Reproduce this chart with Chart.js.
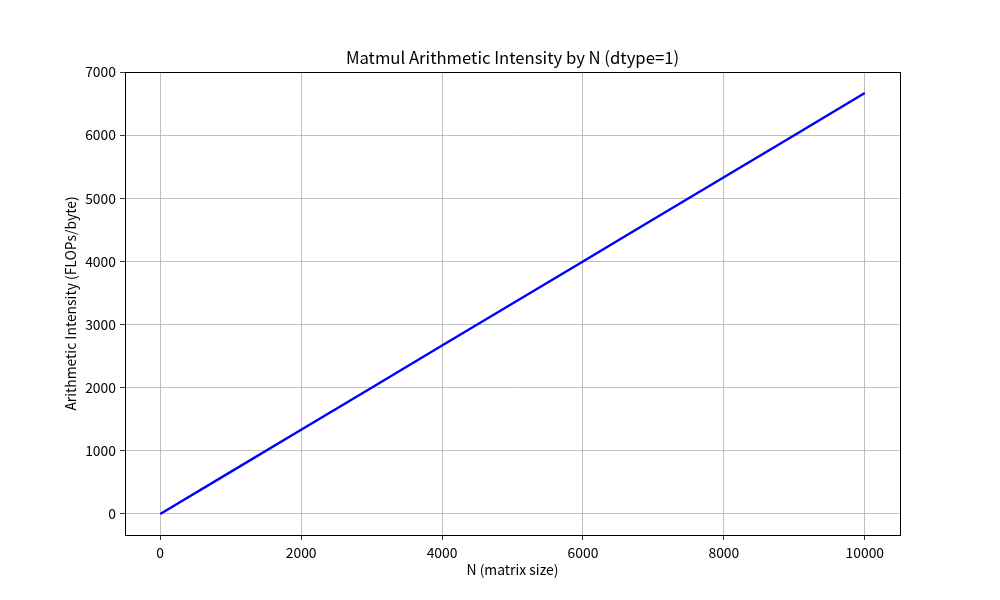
<!DOCTYPE html>
<html><head><meta charset="utf-8">
<script src="https://cdn.jsdelivr.net/npm/chart.js@4"></script>
<style>html,body{margin:0;padding:0;background:#fff}</style>
</head><body>
<canvas id="c" width="1000" height="600"></canvas>
<script>
const nValues = [0, 1000, 2000, 3000, 4000, 5000, 6000, 7000, 8000, 9000, 10000];
const intensity = [0, 667, 1333, 2000, 2667, 3333, 4000, 4667, 5333, 6000, 6667];
const xTicks = [0, 2000, 4000, 6000, 8000, 10000];
const yTicks = [0, 1000, 2000, 3000, 4000, 5000, 6000, 7000];
const FONT = "'Noto Sans CJK JP', 'Noto Sans', sans-serif";

const frame = {
  id: 'frame',
  afterDatasetsDraw(chart) {
    const a = chart.chartArea, ctx = chart.ctx;
    ctx.save();
    ctx.strokeStyle = '#000';
    ctx.lineWidth = 1;
    ctx.strokeRect(Math.round(a.left) + 0.5, Math.round(a.top) + 0.5, Math.round(a.right - a.left), Math.round(a.bottom - a.top));
    ctx.restore();
  }
};

new Chart(document.getElementById('c'), {
  type: 'line',
  data: {
    datasets: [{
      data: nValues.map((n, i) => ({x: n, y: intensity[i]})),
      borderColor: '#0000ff',
      borderWidth: 2.4,
      pointRadius: 0,
      fill: false,
      tension: 0
    }]
  },
  options: {
    responsive: false,
    animation: false,
    devicePixelRatio: 1,
    layout: {padding: {left: 25, right: 0, top: 0, bottom: 0}},
    plugins: {
      legend: {display: false},
      tooltip: {enabled: false},
      title: {
        display: true,
        text: 'Matmul Arithmetic Intensity by N (dtype=1)',
        color: '#000',
        font: {family: FONT, size: 16.7, weight: 'normal', lineHeight: 1.2},
        padding: {top: 48, bottom: 4}
      }
    },
    scales: {
      x: {
        type: 'linear',
        min: -500, max: 10500,
        afterBuildTicks: s => { s.ticks = xTicks.map(v => ({value: v})); },
        afterFit: s => { s.height = 65; },
        grid: {color: '#b0b0b0', lineWidth: 0.8, tickColor: '#000', tickLength: 5, drawOnChartArea: true},
        border: {display: false},
        ticks: {color: '#000', font: {family: FONT, size: 13.9}, padding: 4, maxRotation: 0,
                callback: v => String(v)},
        title: {display: true, text: 'N (matrix size)', color: '#000',
                font: {family: FONT, size: 13.9, lineHeight: 1.2}, padding: {top: 0, bottom: 22}}
      },
      y: {
        type: 'linear',
        min: -333.35, max: 7000,
        afterBuildTicks: s => { s.ticks = yTicks.map(v => ({value: v})); },
        afterFit: s => { s.width = 100; },
        grid: {color: '#b0b0b0', lineWidth: 0.8, tickColor: '#000', tickLength: 5},
        border: {display: false},
        ticks: {color: '#000', font: {family: FONT, size: 13.9}, padding: 4,
                callback: v => String(v)},
        title: {display: true, text: 'Arithmetic Intensity (FLOPs/byte)', color: '#000',
                font: {family: FONT, size: 13.9, lineHeight: 1.2}, padding: {top: 37, bottom: 0}}
      },
      yRight: {
        type: 'linear',
        position: 'right',
        display: true,
        min: 0, max: 1,
        afterFit: s => { s.width = 100; },
        grid: {display: false, drawTicks: false},
        border: {display: false},
        ticks: {display: false}
      }
    }
  },
  plugins: [frame]
});
</script>
</body></html>
